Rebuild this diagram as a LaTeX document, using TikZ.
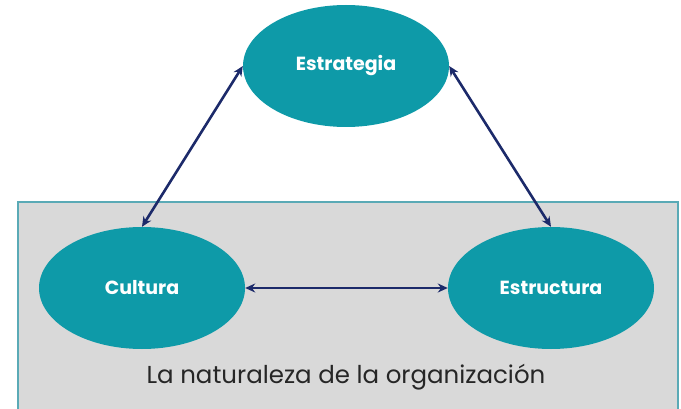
\documentclass[tikz,border=0pt]{standalone}
\usepackage{fontspec}
\setmainfont{Poppins}
\usetikzlibrary{shapes.geometric,arrows.meta}

\definecolor{tealfill}{HTML}{0E9AA8}
\definecolor{boxgray}{HTML}{D9D9D9}
\definecolor{boxline}{HTML}{5AAAB6}
\definecolor{navy}{HTML}{1C2A6A}

\tikzset{
  blob/.style={ellipse,fill=tealfill,text=white,font=\fontsize{19}{22}\selectfont\bfseries,
    minimum width=206pt,minimum height=122pt,inner sep=0pt},
  link/.style={navy,line width=2.6pt,{Stealth[length=10pt,width=9pt]}-{Stealth[length=10pt,width=9pt]}}
}

\begin{document}
\begin{tikzpicture}[x=1pt,y=-1pt]

\useasboundingbox (0,0) rectangle (681,409);
\clip (0,0) rectangle (681,409);

% organisation box
\draw[boxline,fill=boxgray,line width=1.5pt] (18,202) rectangle (678,430);

\node[blob] (estrategia) at (346,66) {Estrategia};
\node[blob] (cultura) at (142,288) {Cultura};
\node[blob] (estructura) at (551,288) {Estructura};

\node[font=\fontsize{24.5}{28}\selectfont,text=black!85] (naturaleza) at (346,377) {La naturaleza de la organización};

\draw[link] (cultura.north) -- (estrategia.west);
\draw[link] (estrategia.east) -- (estructura.north);
\draw[link] (cultura.east) -- (estructura.west);

\end{tikzpicture}
\end{document}
